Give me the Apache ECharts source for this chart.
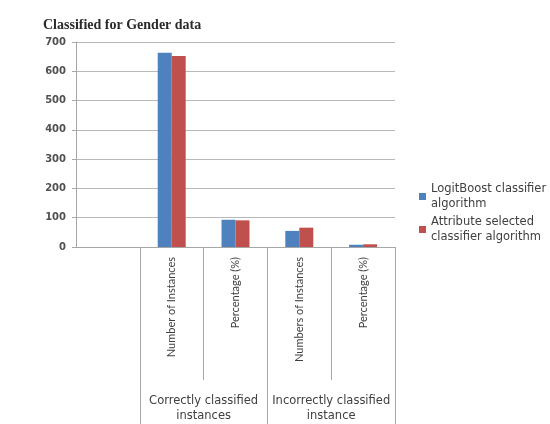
<!DOCTYPE html>
<html>
<head>
<meta charset="utf-8">
<script src="https://cdn.jsdelivr.net/npm/echarts@6/dist/echarts.min.js"></script>
<style>html,body{margin:0;padding:0;background:#fff;}#c{width:550px;height:424px;}</style>
</head>
<body>
<div id="c"></div>
<script>
var titleText = 'Classified for Gender data';
var categories = ['', 'Number of Instances', 'Percentage (%)', 'Numbers of Instances', 'Percentage (%)'];
var groupLabels = ['', '', '', '', 'Correctly classified\ninstances', '', '', '', 'Incorrectly classified\ninstance', '', ''];
var seriesNames = ['LogitBoost classifier algorithm', 'Attribute selected classifier algorithm'];
var legendLabels = ['LogitBoost classifier\nalgorithm', 'Attribute selected\nclassifier algorithm'];
var logitBoost = [null, 663, 93, 55, 7.7];
var attributeSelected = [null, 652, 91, 66, 9.2];
var yTicks = [0, 100, 200, 300, 400, 500, 600, 700];

var chart = echarts.init(document.getElementById('c'));
var txt = '#404040';
var lineCol = '#a6a6a6';
chart.setOption({
  animation: false,
  title: {
    text: titleText, left: 38, top: 13,
    textStyle: {fontFamily: 'Liberation Serif', fontWeight: 'bold', fontSize: 14, color: '#2a2a2a'}
  },
  legend: {
    orient: 'vertical', left: 414, top: 177, itemWidth: 7, itemHeight: 7, itemGap: 4,
    icon: 'rect',
    formatter: function (n) { return legendLabels[seriesNames.indexOf(n)]; },
    textStyle: {fontFamily: 'DejaVu Sans', fontSize: 11.5, color: txt, lineHeight: 14.5}
  },
  grid: {left: 76, right: 155, top: 42, bottom: 177, containLabel: false},
  xAxis: [{
    type: 'category', data: categories, position: 'bottom',
    axisLine: {lineStyle: {color: lineCol}},
    axisTick: {show: true, length: 133, interval: function (i) { return i !== 0; }, lineStyle: {color: lineCol}},
    axisLabel: {interval: 0, rotate: 90, margin: 10, fontFamily: 'Lato', fontSize: 11, color: txt}
  }, {
    type: 'category', data: groupLabels, position: 'bottom', boundaryGap: false,
    axisLine: {show: false},
    axisTick: {show: true, length: 177, interval: function (i) { return i === 2 || i === 6 || i === 10; }, lineStyle: {color: lineCol}},
    axisLabel: {interval: 0, margin: 147, fontFamily: 'DejaVu Sans', fontSize: 11.5, color: txt, lineHeight: 15}
  }],
  yAxis: {
    type: 'value', min: yTicks[0], max: yTicks[yTicks.length - 1], interval: 100,
    axisLine: {show: true, lineStyle: {color: lineCol}},
    axisTick: {show: true, length: 4, lineStyle: {color: lineCol}},
    splitLine: {lineStyle: {color: '#b8b8b8'}},
    axisLabel: {margin: 10, fontFamily: 'DejaVu Sans', fontWeight: 'bold', fontSize: 10, color: '#505050'}
  },
  series: [{
    name: seriesNames[0], type: 'bar', data: logitBoost, barWidth: 14, barGap: '0%',
    itemStyle: {color: '#4F81BD'}
  }, {
    name: seriesNames[1], type: 'bar', data: attributeSelected, barWidth: 14, barGap: '0%',
    itemStyle: {color: '#C0504D'}
  }]
});
</script>
</body>
</html>
